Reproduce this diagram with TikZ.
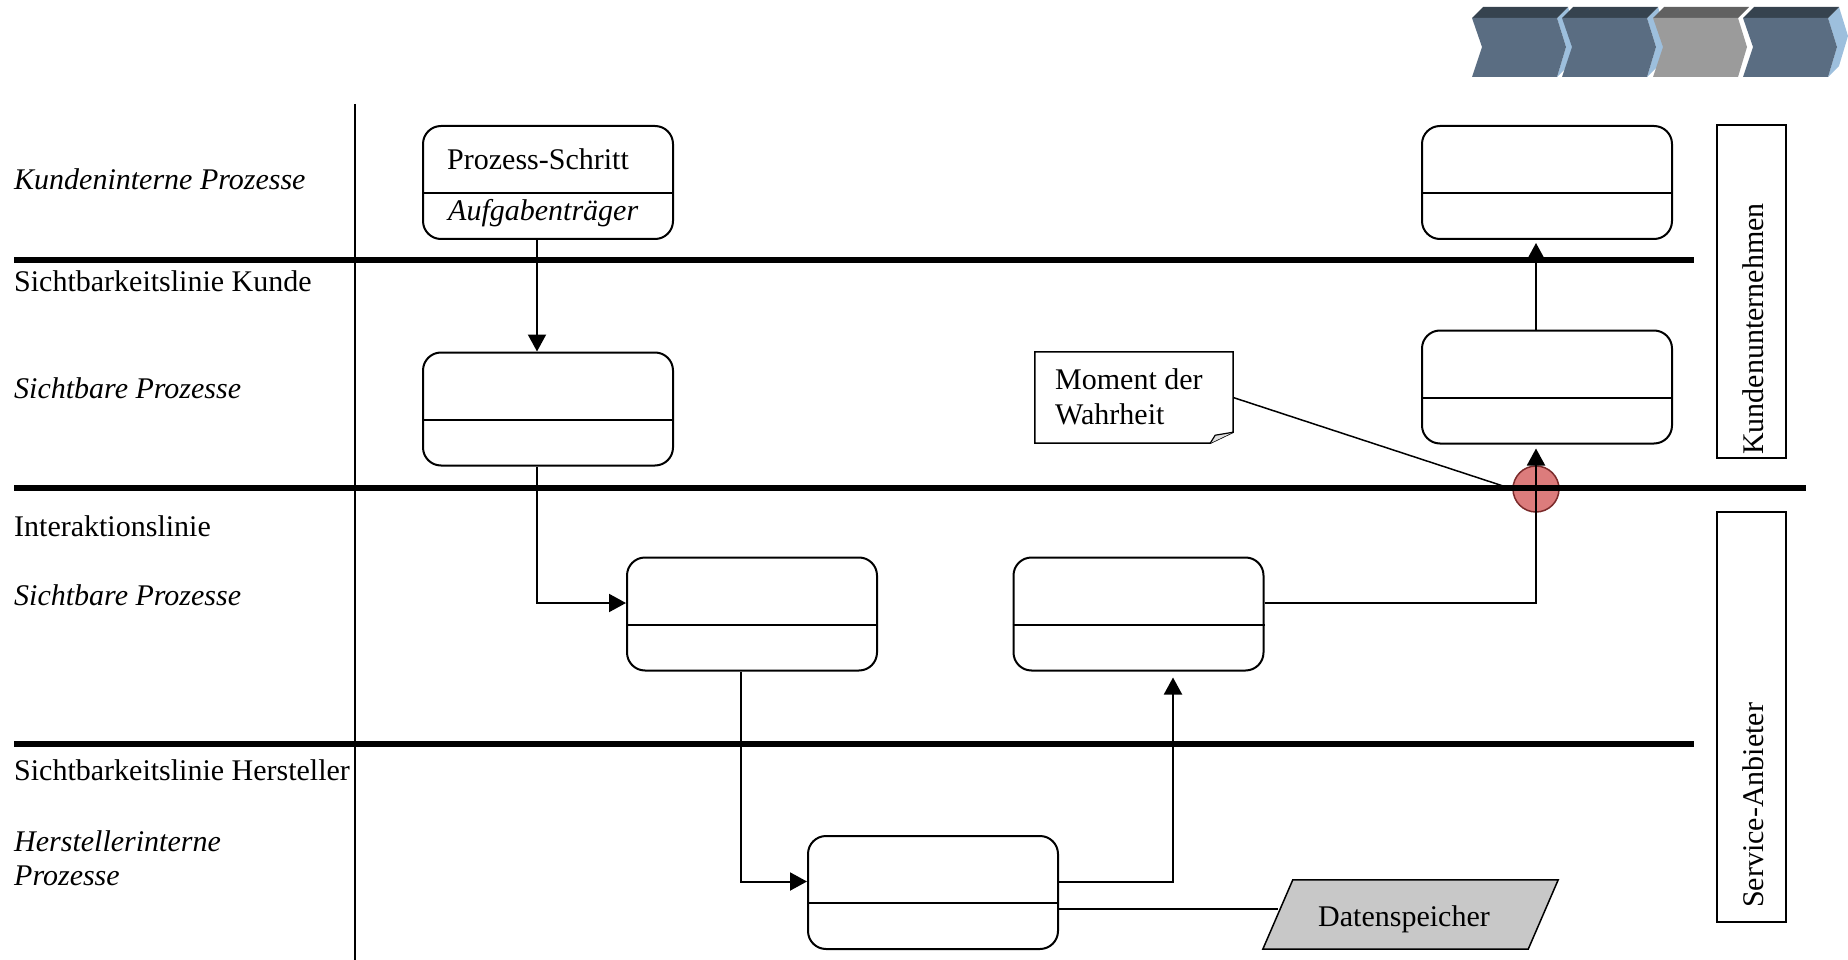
\documentclass[tikz,border=0pt]{standalone}
\usepackage{fontspec}
\setmainfont{Liberation Serif}
\usetikzlibrary{arrows.meta}

\definecolor{slate}{HTML}{5A6D82}
\definecolor{slatetop}{HTML}{36434F}
\definecolor{slateside}{HTML}{9DBFDD}
\definecolor{greyfront}{HTML}{9B9B9B}
\definecolor{greytop}{HTML}{616161}
\definecolor{momentred}{HTML}{DC7C7C}
\definecolor{momentrim}{HTML}{7A2A2A}
\definecolor{storegrey}{HTML}{C8C8C8}

% one extruded chevron of the process banner: #1 left x, #2 front, #3 top, #4 side
\newcommand\chevronstep[4]{%
  \fill[#4] ({#1+85},18) -- ({#1+96},7) -- ({#1+105},36) -- ({#1+96},66)
            -- ({#1+85},77) -- ({#1+94},47) -- cycle;
  \fill[#3] (#1,18) -- ({#1+11},7) -- ({#1+96},7) -- ({#1+85},18) -- cycle;
  \fill[#2] (#1,18) -- ({#1+85},18) -- ({#1+94},47) -- ({#1+85},77)
            -- (#1,77) -- ({#1+10},47) -- cycle;
}

\begin{document}
\begin{tikzpicture}[x=1pt,y=-1pt,
  every node/.style={font=\fontsize{30}{36}\selectfont},
  lane/.style={line width=6pt},
  proc/.style={draw, line width=2pt, rounded corners=18pt,
    minimum width=250pt, minimum height=113pt, inner sep=0pt},
  flow/.style={line width=2pt, -{Triangle[length=17pt,width=18pt]}},
  link/.style={line width=2pt},
  lbl/.style={anchor=base west, inner sep=0pt},
  lblit/.style={lbl, font=\fontsize{30}{36}\selectfont\itshape},
  sidebox/.style={draw, line width=1.8pt, minimum width=69pt, inner sep=0pt},
  sidetext/.style={rotate=90, anchor=base west, inner sep=0pt}
]
\useasboundingbox (0,0) rectangle (1848,960);

% process banner
\chevronstep{1472}{slate}{slatetop}{slateside}
\chevronstep{1562}{slate}{slatetop}{slateside}
\chevronstep{1653}{greyfront}{greytop}{white}
\chevronstep{1743}{slate}{slatetop}{slateside}

% moment of truth marker, under the interaction line
\node[circle, draw=momentrim, fill=momentred, line width=1.5pt,
  minimum size=46pt, inner sep=0pt] (mdw) at (1536,489) {};

% lane separators
\draw[lane] (14,260.5) -- (1694,260.5);
\draw[lane] (14,488) -- (1806,488);
\draw[lane] (14,744) -- (1694,744);
\draw[line width=2.5pt] (355,104) -- (355,960);

% lane labels
\node[lblit] (l1) at (14,189.5) {Kundeninterne Prozesse};
\node[lbl]   (l2) at (14,291.5) {Sichtbarkeitslinie Kunde};
\node[lblit] (l3) at (14,398.5) {Sichtbare Prozesse};
\node[lbl]   (l4) at (14,536.5) {Interaktionslinie};
\node[lblit] (l5) at (14,605.5) {Sichtbare Prozesse};
\node[lbl]   (l6) at (14,780.5) {Sichtbarkeitslinie Hersteller};
\node[lblit] (l7) at (14,851) {Herstellerinterne};
\node[lblit] (l8) at (14,885) {Prozesse};

% process steps
\node[proc] (A) at (548,182.5) {};
\node[proc] (B) at (548,409) {};
\node[proc] (C) at (752,614) {};
\node[proc] (D) at (1138.5,614) {};
\node[proc] (E) at (933,892.5) {};
\node[proc] (F) at (1547,182.5) {};
\node[proc] (G) at (1547,387) {};
\foreach \b in {A,B,C,D,E,F,G}
  \draw[link] ([yshift=-10.5pt]\b.west) -- ([yshift=-10.5pt]\b.east);

\node[lbl]   (atitle) at (447,169.5) {Prozess-Schritt};
\node[lblit] (aowner) at (448,220.5) {Aufgabenträger};

% note
\node[inner sep=0pt, minimum width=198pt, minimum height=91pt] (note) at (1134,397.5) {};
\draw[link, line width=1.5pt] (note.north west) -- (note.north east)
  -- ([yshift=11pt]note.south east) -- ([xshift=-23pt]note.south east)
  -- (note.south west) -- cycle;
\draw[line width=1.2pt, fill=gray!25] ([xshift=-23pt]note.south east)
  -- ([xshift=-18pt,yshift=8pt]note.south east) -- ([yshift=11pt]note.south east);
\node[lbl] (n1) at (1055,389.5) {Moment der};
\node[lbl] (n2) at (1055,424.5) {Wahrheit};
\draw[line width=1.5pt] (note.east) -- (mdw.west);

% data store: a slanted box around an invisible frame node
\node[inner sep=0pt, minimum width=265pt, minimum height=69pt] (DS) at (1410.5,914.5) {};
\draw[link] ([yshift=-16.5pt]E.east) -- ([yshift=5.5pt]DS.west);
\draw[line width=1.5pt, fill=storegrey]
  ([xshift=15pt]DS.north west) -- ([xshift=15pt]DS.north east)
  -- ([xshift=-15pt]DS.south east) -- ([xshift=-15pt]DS.south west) -- cycle;
\node[inner sep=0pt] (dstext) at (1404,919.5) {Datenspeicher};

% flow
\draw[flow] ([xshift=-11pt]A.south) -- ([xshift=-11pt]B.north);
\draw[flow] ([xshift=-11pt]B.south) |- ([yshift=11pt]C.west);
\draw[flow] ([xshift=-11pt]C.south) |- ([yshift=11pt]E.west);
\draw[flow, shorten >=6pt] ([yshift=11pt]E.east) -| ([xshift=34.5pt]D.south);
\draw[flow, shorten >=4pt] ([yshift=11pt]D.east) -| ([xshift=-11pt]G.south);
\draw[flow, shorten >=3pt] ([xshift=-11pt]G.north) -- ([xshift=-11pt]F.south);

% organisation labels
\node[sidebox, minimum height=333pt] (kbox) at (1751.5,291.5) {};
\node[sidetext] (ktext) at (1763,455) {Kundenunternehmen};
\node[sidebox, minimum height=410pt] (sbox) at (1751.5,717) {};
\node[sidetext] (stext) at (1763,908) {Service-Anbieter};
\end{tikzpicture}
\end{document}
